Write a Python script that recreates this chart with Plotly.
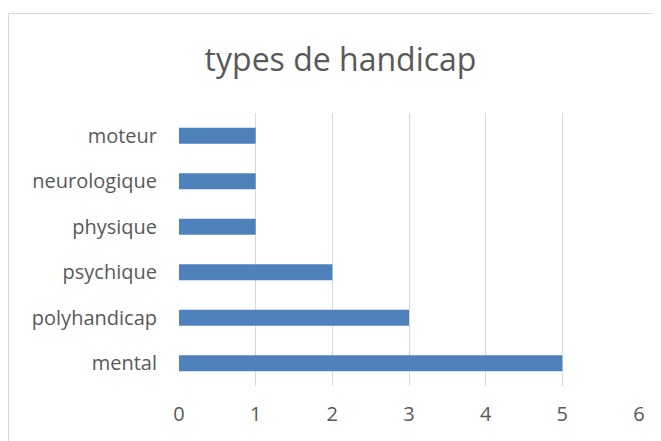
import plotly.graph_objects as go

categories = ["mental", "polyhandicap", "psychique", "physique", "neurologique", "moteur"]
values = [5, 3, 2, 1, 1, 1]
x_ticks = [0, 1, 2, 3, 4, 5, 6]
title_text = "types de handicap"

# page has an 8px body margin; work in figure coordinates
OFF = 8
W, H = 661 - OFF, 441 - OFF
L, R, T, B = 179 - OFF, 639 - OFF, 113 - OFF, 386 - OFF

fig = go.Figure(go.Bar(
    y=categories, x=values, orientation="h",
    marker=dict(color="#4F81BD", line=dict(width=0)),
    width=0.35,
))

def px_x(p):
    return (p - L) / (R - L)

def px_y(p):
    return (B - p) / (B - T)

fig.add_shape(type="rect", xref="paper", yref="paper",
              x0=px_x(0.5), x1=px_x(700), y0=px_y(470), y1=px_y(13.5 - OFF),
              line=dict(color="#D9D9D9", width=1.2), fillcolor="rgba(0,0,0,0)", layer="below")

fig.update_layout(
    width=W, height=H,
    margin=dict(l=L, r=W - R, t=T, b=H - B, pad=0, autoexpand=False),
    paper_bgcolor="white", plot_bgcolor="white",
    showlegend=False,
    bargap=0.65,
    title=dict(text=title_text, x=(340.5 - OFF) / W, xanchor="center",
               y=1 - (60 - OFF) / H, yanchor="middle",
               font=dict(family="Open Sans", size=32, color="#595959")),
    xaxis=dict(range=[0, 6], tickvals=x_ticks, showgrid=True, gridcolor="#D9D9D9", gridwidth=1,
               zeroline=False, showline=False, ticks="",
               tickfont=dict(family="Open Sans", size=20, color="#595959"), ticklabelstandoff=14),
    yaxis=dict(categoryorder="array", categoryarray=categories, showgrid=False, zeroline=False,
               showline=False, ticks="", ticklabelstandoff=21,
               tickfont=dict(family="Open Sans", size=20, color="#595959")),
)

fig.write_html("out.html")
